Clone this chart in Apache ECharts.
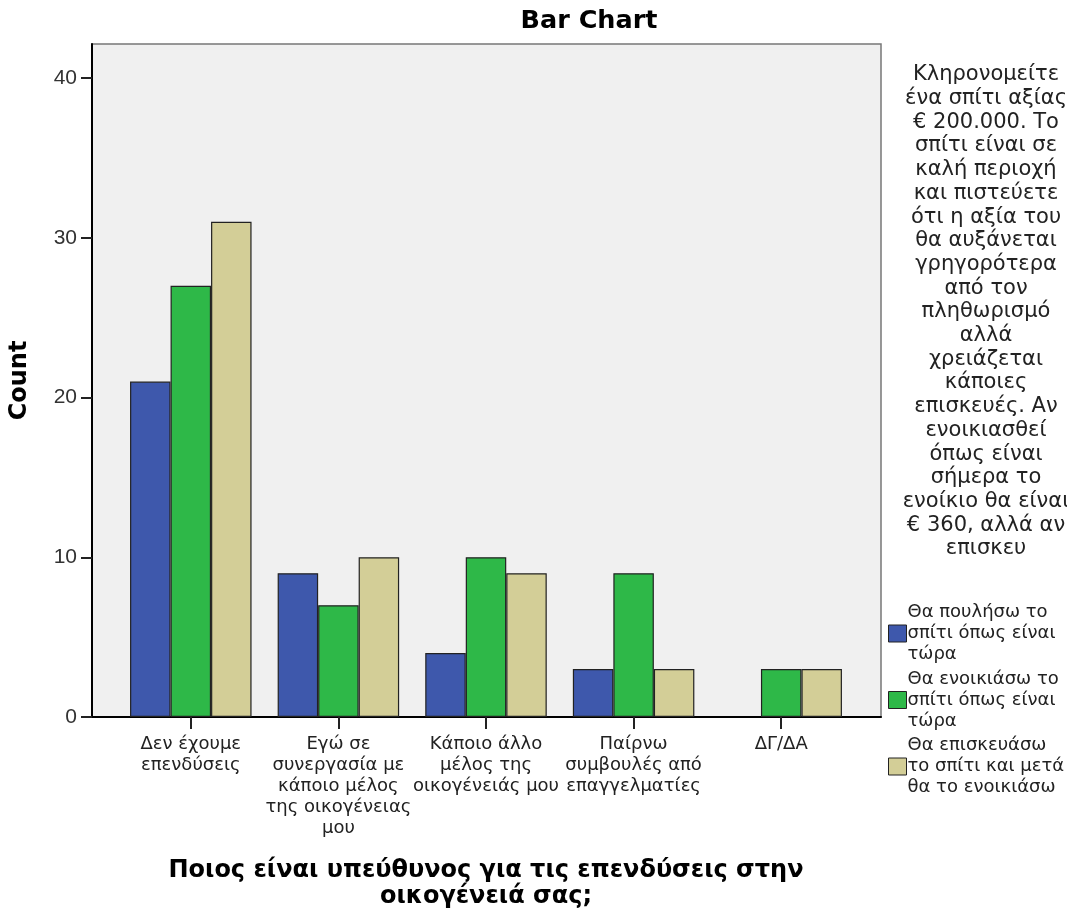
<!DOCTYPE html>
<html>
<head>
<meta charset="utf-8">
<script src="https://cdn.jsdelivr.net/npm/echarts@6/dist/echarts.min.js"></script>
<style>html,body{margin:0;padding:0;background:#fff;}#c{width:1067px;height:920px;}</style>
</head>
<body>
<div id="c"></div>
<script>
const categories = [
  "Δεν έχουμε\nεπενδύσεις",
  "Εγώ σε\nσυνεργασία με\nκάποιο μέλος\nτης οικογένειας\nμου",
  "Κάποιο άλλο\nμέλος της\nοικογένειάς μου",
  "Παίρνω\nσυμβουλές από\nεπαγγελματίες",
  "ΔΓ/ΔΑ"
];
const seriesNames = [
  "Θα πουλήσω το σπίτι όπως είναι τώρα",
  "Θα ενοικιάσω το σπίτι όπως είναι τώρα",
  "Θα επισκευάσω το σπίτι και μετά θα το ενοικιάσω"
];
const legendLabels = [
  "Θα πουλήσω το\nσπίτι όπως είναι\nτώρα",
  "Θα ενοικιάσω το\nσπίτι όπως είναι\nτώρα",
  "Θα επισκευάσω\nτο σπίτι και μετά\nθα το ενοικιάσω"
];
const sellValues = [21, 9, 4, 3, null];
const rentValues = [27, 7, 10, 9, 3];
const repairValues = [31, 10, 9, 3, 3];
const yTicks = [0, 10, 20, 30, 40];
const colors = ["#3e58ac", "#2eb848", "#d3ce97"];
const legendTitle = "Κληρονομείτε\nένα σπίτι αξίας\n€ 200.000. Το\nσπίτι είναι σε\nκαλή περιοχή\nκαι πιστεύετε\nότι η αξία του\nθα αυξάνεται\nγρηγορότερα\nαπό τον\nπληθωρισμό\nαλλά\nχρειάζεται\nκάποιες\nεπισκευές. Αν\nενοικιασθεί\nόπως είναι\nσήμερα το\nενοίκιο θα είναι\n€ 360, αλλά αν\nεπισκευ";

const FONT = "'DejaVu Sans', sans-serif";
const NUMFONT = "'Liberation Sans', Arial, sans-serif";
const YMAX = 42.13;
const chart = echarts.init(document.getElementById('c'), null, {renderer: 'canvas'});
const valsList = [sellValues, rentValues, repairValues];
const option = {
  animation: false,
  backgroundColor: '#ffffff',
  textStyle: {fontFamily: FONT},
  title: [
    {text: 'Bar Chart', left: 584, top: 3, textAlign: 'center',
     textStyle: {fontFamily: FONT, fontSize: 25.5, fontWeight: 'bold', color: '#000'}},
    {text: legendTitle, left: 981, top: 58, textAlign: 'center',
     textStyle: {fontFamily: FONT, fontSize: 21, fontWeight: 'normal', color: '#222', lineHeight: 23.7}}
  ],
  legend: {
    orient: 'vertical', left: 883, top: 597, itemWidth: 18, itemHeight: 17, itemGap: 3.5,
    icon: 'rect',
    data: seriesNames,
    formatter: function (name) { return legendLabels[seriesNames.indexOf(name)]; },
    textStyle: {fontFamily: FONT, fontSize: 18, lineHeight: 21, color: '#222', padding: [0,0,0,-4]},
    itemStyle: {borderColor: '#222', borderWidth: 1}
  },
  grid: [
    {left: 91, right: 186, top: 44, bottom: 203, show: true, backgroundColor: '#f0f0f0',
     borderColor: '#777', borderWidth: 1.5},
    {left: 117, right: 212, top: 44, bottom: 203}
  ],
  xAxis: [
    {type: 'value', gridIndex: 0, min: 0, max: 1, axisLabel: {show: false}, axisTick: {show: false},
     splitLine: {show: false}, axisLine: {show: true, lineStyle: {color: '#000', width: 2}}},
    {type: 'category', gridIndex: 1, data: categories,
     axisLine: {show: false},
     axisTick: {show: true, alignWithLabel: true, length: 12, lineStyle: {color: '#222', width: 2}},
     axisLabel: {margin: 17, fontFamily: FONT, fontSize: 18, lineHeight: 21, color: '#222', interval: 0},
     name: "Ποιος είναι υπεύθυνος για τις επενδύσεις στην\nοικογένειά σας;",
     nameLocation: 'middle', nameGap: 141,
     nameTextStyle: {fontFamily: FONT, fontSize: 24, fontWeight: 'bold', color: '#000', lineHeight: 26}}
  ],
  yAxis: [
    {type: 'value', gridIndex: 0, min: 0, max: YMAX, interval: 10,
     axisLine: {show: true, lineStyle: {color: '#000', width: 2}},
     axisTick: {show: true, length: 11, customValues: yTicks, lineStyle: {color: '#222', width: 2}},
     axisLabel: {customValues: yTicks, margin: 15, fontFamily: NUMFONT, fontSize: 21, color: '#333'},
     splitLine: {show: false},
     name: 'Count', nameLocation: 'middle', nameGap: 60, nameRotate: 90,
     nameTextStyle: {fontFamily: FONT, fontSize: 24, fontWeight: 'bold', color: '#000'}},
    {type: 'value', gridIndex: 1, min: 0, max: YMAX, show: false, splitLine: {show: false}}
  ],
  series: seriesNames.map(function (n, i) {
    return {
      name: n, type: 'bar', xAxisIndex: 1, yAxisIndex: 1, data: valsList[i],
      barWidth: 40.5, barGap: '0%',
      itemStyle: {color: colors[i], borderColor: '#222', borderWidth: 1.2}
    };
  })
};
chart.setOption(option);
</script>
</body>
</html>
